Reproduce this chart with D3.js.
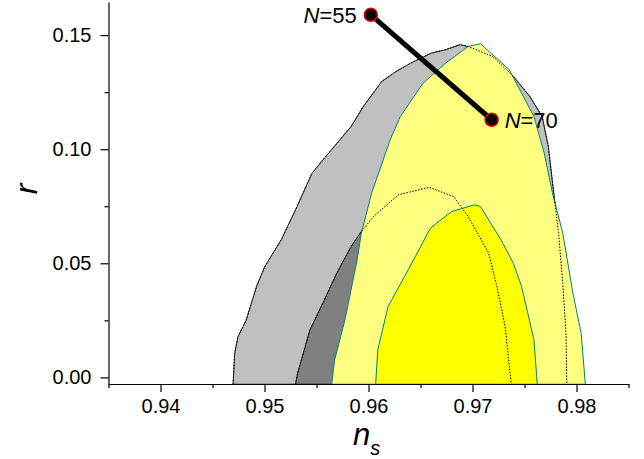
<!DOCTYPE html>
<html>
<head>
<meta charset="utf-8">
<script src="https://cdn.jsdelivr.net/npm/d3@7"></script>
<style>
  body { margin: 0; background: #fff; }
  svg text { font-family: "Liberation Sans", Arial, sans-serif; }
</style>
</head>
<body>
<div id="chart"></div>
<script>
// contours, [n_s, r]
var grayOuter = [
  [0.94698, -0.003], [0.94713, 0.0105], [0.94745, 0.0178], [0.94824, 0.0251],
  [0.94923, 0.0398], [0.95002, 0.0485], [0.9516, 0.0602], [0.95298, 0.0734],
  [0.95457, 0.0895], [0.95615, 0.0982], [0.95832, 0.1099], [0.9595, 0.1187],
  [0.96128, 0.1297], [0.96267, 0.1341], [0.96405, 0.1377], [0.96603, 0.1421],
  [0.96741, 0.1436], [0.9688, 0.1458], [0.96958, 0.1450], [0.97196, 0.1406],
  [0.97393, 0.1319], [0.97551, 0.1231], [0.9767, 0.1143], [0.97729, 0.1012],
  [0.97789, 0.0778], [0.97828, 0.0632], [0.97868, 0.0412], [0.97899, 0.0193],
  [0.97907, -0.003]
];
var grayInner = [
  [0.95298, -0.003], [0.95318, 0.0018], [0.95437, 0.0208], [0.95575, 0.0339],
  [0.95694, 0.0456], [0.95832, 0.0573], [0.95931, 0.0639], [0.96049, 0.0705],
  [0.96287, 0.0800], [0.96583, 0.0833], [0.9682, 0.0792], [0.96958, 0.0705],
  [0.97156, 0.0544], [0.97235, 0.0398], [0.97314, 0.0222], [0.97373, -0.003]
];
var yellowOuter = [
  [0.95646, -0.003], [0.95674, 0.0076], [0.95773, 0.0251], [0.95891, 0.0515],
  [0.95931, 0.0632], [0.9603, 0.0807], [0.96208, 0.1041], [0.96306, 0.1143],
  [0.96524, 0.1289], [0.96741, 0.1377], [0.96958, 0.1450], [0.97077, 0.1462],
  [0.97354, 0.1348], [0.97472, 0.1246], [0.97591, 0.1143], [0.9769, 0.0982],
  [0.97769, 0.0807], [0.97868, 0.0632], [0.97966, 0.0368], [0.98045, 0.0193],
  [0.98085, -0.003]
];
var yellowInner = [
  [0.96069, -0.003], [0.96089, 0.0120], [0.96188, 0.0310], [0.96346, 0.0442],
  [0.96484, 0.0558], [0.96595, 0.0654], [0.968, 0.0727], [0.97018, 0.0756],
  [0.97077, 0.0749], [0.97275, 0.0602], [0.97393, 0.0500], [0.97472, 0.0398],
  [0.97532, 0.0281], [0.97591, 0.0164], [0.97623, -0.003]
];

var modelNames = ["55", "70"];
var modelNs = [0.96022, 0.97184];
var modelR = [0.1589, 0.1129];

var xTicks = [0.94, 0.95, 0.96, 0.97, 0.98];
var xMinor = [0.935, 0.945, 0.955, 0.965, 0.975, 0.985];
var yTicks = [0.00, 0.05, 0.10, 0.15];
var yMinor = [0.025, 0.075, 0.125];

var width = 644,
	height = 459;

var x = d3.scaleLinear()
	.domain([0.935, 0.985])
	.range([108.5, 628.5]);

var y = d3.scaleLinear()
	.domain([-0.0029, 0.1645])
	.range([384, 2]);

var svg = d3.select("#chart").append("svg")
	.attr("width", width)
	.attr("height", height);

svg.append("clipPath").attr("id", "plot")
	.append("rect")
	.attr("x", x(0.935)).attr("y", y(0.1645))
	.attr("width", x(0.985) - x(0.935))
	.attr("height", y(-0.0029) - y(0.1645));

var line = d3.line()
	.x(function(d){ return x(d[0]); })
	.y(function(d){ return y(d[1]); });

var area = svg.append("g").attr("clip-path", "url(#plot)");

// filled contours, back to front
area.append("path").datum(grayOuter)
	.attr("d", function(d){ return line(d) + "Z"; })
	.style("fill", "#c0c0c0").style("stroke", "#000").style("stroke-width", 0.8);
area.append("path").datum(grayInner)
	.attr("d", function(d){ return line(d) + "Z"; })
	.style("fill", "#808080").style("stroke", "#000").style("stroke-width", 0.8);
area.append("path").datum(yellowOuter)
	.attr("d", function(d){ return line(d) + "Z"; })
	.style("fill", "#ffff80").style("stroke", "#008080").style("stroke-width", 1);
area.append("path").datum(yellowInner)
	.attr("d", function(d){ return line(d) + "Z"; })
	.style("fill", "#ffff00").style("stroke", "#008080").style("stroke-width", 1);

// gray outlines again, dotted over the yellow
[grayOuter, grayInner].forEach(function(c){
	area.append("path").datum(c)
		.attr("d", line)
		.style("fill", "none")
		.style("stroke", "#000")
		.style("stroke-width", 1)
		.style("stroke-dasharray", "1.5,1.5");
});

// axes
svg.append("g")
	.attr("transform", "translate(0," + y(-0.0029) + ")")
	.call(d3.axisBottom(x).tickValues(xTicks).tickSize(8).tickSizeOuter(0).tickPadding(7)
		.tickFormat(d3.format(".2f")));
svg.append("g")
	.attr("transform", "translate(0," + y(-0.0029) + ")")
	.call(d3.axisBottom(x).tickValues(xMinor).tickSize(4).tickSizeOuter(0).tickFormat(""))
	.select(".domain").remove();

svg.append("g")
	.attr("transform", "translate(" + x(0.935) + ",0)")
	.call(d3.axisLeft(y).tickValues(yTicks).tickSize(8).tickSizeOuter(0).tickPadding(9)
		.tickFormat(d3.format(".2f")));
svg.append("g")
	.attr("transform", "translate(" + x(0.935) + ",0)")
	.call(d3.axisLeft(y).tickValues(yMinor).tickSize(4).tickSizeOuter(0).tickFormat(""))
	.select(".domain").remove();

svg.selectAll(".tick text")
	.style("font-size", "20px")
	.style("font-family", "'Liberation Sans', Arial, sans-serif")
	.style("fill", "#000");
svg.selectAll(".domain, .tick line").style("stroke", "#000").style("stroke-width", 1.2);

// axis titles
svg.append("text")
	.attr("transform", "translate(37,189) rotate(-90)")
	.attr("text-anchor", "middle")
	.style("font-size", "32px")
	.style("font-style", "italic")
	.text("r");

var xt = svg.append("text")
	.attr("x", 353)
	.attr("y", 445)
	.style("font-style", "italic")
	.style("font-size", "31px");
xt.append("tspan").text("n");
xt.append("tspan")
	.attr("dy", 10)
	.style("font-size", "20px")
	.text("s");

// N line and points
svg.append("path")
	.datum(d3.zip(modelNs, modelR))
	.attr("d", line)
	.style("fill", "none")
	.style("stroke", "#000")
	.style("stroke-width", 5);

svg.selectAll("circle.model").data(modelNs)
	.enter().append("circle")
		.attr("class", "model")
		.attr("cx", function(d){ return x(d); })
		.attr("cy", function(d,i){ return y(modelR[i]); })
		.attr("r", 6.5)
		.style("fill", "#000")
		.style("stroke", "#e00000")
		.style("stroke-width", 1.5);

svg.selectAll("text.model").data(modelNs)
	.enter().append("text")
		.attr("class", "model")
		.attr("x", function(d,i){ return i === 0 ? x(d) - 14 : x(d) + 13; })
		.attr("y", function(d,i){ return y(modelR[i]) + 8; })
		.attr("text-anchor", function(d,i){ return i === 0 ? "end" : "start"; })
		.style("font-size", "22px")
		.each(function(d,i){
			var t = d3.select(this);
			t.append("tspan").style("font-style", "italic").text("N");
			t.append("tspan").text("=" + modelNames[i]);
		});
</script>
</body>
</html>
